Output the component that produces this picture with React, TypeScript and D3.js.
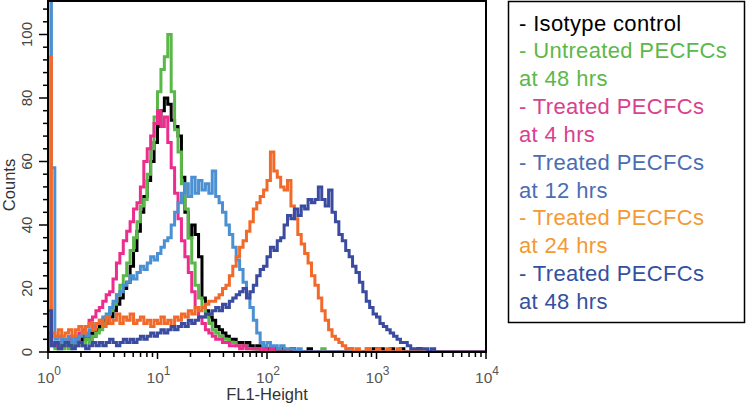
import React from "react";
import * as d3 from "d3";

// Histogram bins: 32 bins per decade over 10^0 .. 10^4 (128 bins)
const BINS_PER_DECADE = 32;
const isotypeCounts = [
  6,3,2,3,2,3,2,3,4,3, 5,4,6,5,7,8,10,9,11,13, 15,17,20,22,27,32,38,44,49,54,
  60,66,71,76,80,78,73,71,68,55, 44,36,40,37,30,17,13,11,10,8, 7,6,5,4,4,3,3,2,3,2,
  1,2,1,1,1,0,1,0,1,0, 0,1,0,0,0,0,1,0,0,0, 0,0,0,0,0,0,0,0,0,0,
  0,0,0,0,0,1,0,1,0,0, 1,0,0,1,0,0,0,0,1,0, 0,0,0,0,0,0,0,0,0,0, 0,0,0,0,0,0,0,0,
];
const untreated48Counts = [
  3,2,1,2,1,2,1,2,2,3, 2,4,3,5,6,7,9,11,13,15, 18,21,24,28,32,36,41,46,48,56,
  64,74,82,89,93,100,82,70,63,53, 45,36,28,21,17,14,11,9,7,6, 5,4,4,3,3,2,2,2,1,1,
  1,0,1,0,0,1,0,0,0,0, 0,0,0,0,0,0,0,0,0,0, 1,0,0,0,0,0,0,0,1,0,
  0,0,0,0,0,0,0,0,0,0, 0,0,0,0,0,0,0,0,0,0, 0,0,0,0,0,0,0,0,0,0, 0,0,0,0,0,0,0,0,
];
const treated4Counts = [
  4,3,2,3,4,3,4,5,4,6, 7,8,10,11,13,14,16,18,19,23, 28,31,35,38,41,45,47,52,60,64,
  68,72,76,71,74,66,58,50,42,35, 30,25,19,14,11,9,7,6,5,4, 4,3,3,2,2,2,1,2,1,1,
  1,1,0,1,0,1,0,0,0,0, 0,0,0,0,0,0,0,0,0,0, 0,0,0,0,0,0,0,0,0,0,
  0,0,0,0,0,0,0,0,0,0, 0,0,0,0,0,0,0,0,0,0, 0,0,0,0,0,0,0,0,0,0, 0,0,0,0,0,0,0,0,
];
const treated12Counts = [
  120,58,4,5,3,4,5,3,4,5, 6,5,7,8,9,10,11,12,14,16, 18,19,21,22,24,23,25,27,26,28,
  30,29,31,33,35,36,40,44,47,50, 53,49,55,50,54,51,53,50,57,49, 47,44,40,37,33,29,26,22,18,14,
  10,6,3,2,3,2,2,1,2,1, 1,1,0,1,0,0,0,0,0,0, 0,0,0,0,0,0,0,0,1,0,
  0,0,0,1,0,0,0,0,0,0, 0,0,0,0,0,0,0,0,0,0, 0,0,0,0,0,0,0,0,0,0, 0,0,0,0,0,0,0,0,
];
const treated24Counts = [
  93,6,5,7,5,6,7,5,7,8, 6,8,9,7,9,10,8,11,9,10, 12,9,11,10,12,9,10,11,9,10,
  8,10,9,11,9,10,8,11,10,12, 11,13,12,14,13,14,15,16,16,17, 18,20,21,24,27,30,33,35,38,41,
  45,47,49,51,54,63,57,55,52,51, 54,46,42,37,34,31,28,24,21,17, 13,10,7,5,4,3,2,1,1,0,
  1,0,0,1,0,0,1,0,0,1, 0,0,1,0,0,0,0,0,0,0, 0,0,0,0,0,0,0,0,0,0, 0,0,0,0,0,0,0,0,
];
const treated48Counts = [
  13,2,3,1,2,3,2,1,2,3, 2,1,2,3,2,3,2,3,4,3, 2,3,4,3,4,3,4,5,4,5,
  6,5,6,7,6,7,8,7,8,9, 8,10,9,10,11,11,12,12,13,14, 13,15,14,16,17,18,19,20,17,19,
  21,24,26,27,30,33,32,35,36,40, 43,42,45,43,46,45,48,47,48,52, 48,46,51,44,41,37,35,32,30,27,
  25,22,19,16,14,12,11,9,8,7, 6,5,4,3,3,2,1,1,1,1, 1,0,1,0,0,0,0,0,0,0, 0,0,0,0,0,0,0,0,
];

const legendLines = [
  { text: "- Isotype control", color: "#000000" },
  { text: "- Untreated PECFCs", color: "#5cb84a" },
  { text: "at 48 hrs", color: "#5cb84a" },
  { text: "- Treated PECFCs", color: "#d9418f" },
  { text: "at 4 hrs", color: "#d9418f" },
  { text: "- Treated PECFCs", color: "#4a6db3" },
  { text: "at 12 hrs", color: "#4a6db3" },
  { text: "- Treated PECFCs", color: "#f39a33" },
  { text: "at 24 hrs", color: "#f39a33" },
  { text: "- Treated PECFCs", color: "#34509f" },
  { text: "at 48 hrs", color: "#34509f" },
];

// draw order: first is bottom
const series = [
  { name: "Isotype control", counts: isotypeCounts, color: "#000000" },
  { name: "Untreated 48h", counts: untreated48Counts, color: "#5ab848" },
  { name: "Treated 4h", counts: treated4Counts, color: "#ec2d8e" },
  { name: "Treated 12h", counts: treated12Counts, color: "#4a90d2" },
  { name: "Treated 24h", counts: treated24Counts, color: "#f26a2a" },
  { name: "Treated 48h", counts: treated48Counts, color: "#3a4ba0" },
];

const yMajorTicks = [0, 20, 40, 60, 80, 100];
const xDecades = [0, 1, 2, 3, 4];

const W = 746, H = 404;
const L = 48, R = 486, T = 1, B = 352;
const FONT = "'Liberation Sans', Arial, Helvetica, sans-serif";

export default function App() {
  const x = d3.scaleLog().domain([1, 10000]).range([L, R]);
  const y = d3.scaleLinear().domain([0, 110.55]).range([B, T]);

  const line = d3
    .line<[number, number]>()
    .x((d) => x(d[0]))
    .y((d) => y(d[1]))
    .curve(d3.curveStepAfter);

  const pathFor = (counts: number[]) => {
    const pts: [number, number][] = [[1, 0]];
    counts.forEach((c, i) => pts.push([Math.pow(10, i / BINS_PER_DECADE), c]));
    pts.push([10000, counts[counts.length - 1]]);
    pts.push([10000, 0]);
    return line(pts) || "";
  };

  const yMinor = d3.range(0, 112, 4);
  const xMinor: number[] = [];
  for (let d = 0; d < 4; d++) for (let k = 2; k <= 9; k++) xMinor.push(k * Math.pow(10, d));

  return (
    <svg
      width={W}
      height={H}
      style={{ position: "absolute", left: 0, top: 0, background: "#fff" }}
      fontFamily={FONT}
    >
      <defs>
        <clipPath id="plotclip">
          <rect x={L} y={T} width={R - L} height={B - T} />
        </clipPath>
      </defs>
      <rect x={0} y={0} width={W} height={H} fill="#fff" />
      <g clipPath="url(#plotclip)">
        {series.map((s) => (
          <path
            key={s.name}
            d={pathFor(s.counts)}
            fill="none"
            stroke={s.color}
            strokeWidth={3}
            strokeLinejoin="miter"
          />
        ))}
      </g>
      {/* frame */}
      <rect x={L} y={T} width={R - L} height={B - T} fill="none" stroke="#000" strokeWidth={2} />
      {/* y ticks */}
      {yMinor.map((v) => {
        const major = v % 20 === 0;
        return (
          <line
            key={"ym" + v}
            x1={L - (major ? 9 : 5)}
            x2={L}
            y1={y(v)}
            y2={y(v)}
            stroke="#000"
            strokeWidth={1.5}
          />
        );
      })}
      {yMajorTicks.map((v) => (
        <text
          key={"yl" + v}
          transform={`translate(32,${y(v)}) rotate(-90)`}
          textAnchor="middle"
          fontSize={15}
          fill="#444"
        >
          {v}
        </text>
      ))}
      <text
        transform={`translate(15,${185}) rotate(-90)`}
        textAnchor="middle"
        fontSize={16.5}
        fill="#333"
      >
        Counts
      </text>
      {/* x ticks */}
      {xMinor.map((v) => (
        <line key={"xm" + v} x1={x(v)} x2={x(v)} y1={B} y2={B + 5} stroke="#000" strokeWidth={1.5} />
      ))}
      {xDecades.map((d) => (
        <line
          key={"xM" + d}
          x1={x(Math.pow(10, d))}
          x2={x(Math.pow(10, d))}
          y1={B}
          y2={B + 7}
          stroke="#000"
          strokeWidth={1.5}
        />
      ))}
      {xDecades.map((d) => (
        <text key={"xl" + d} x={x(Math.pow(10, d)) + 1} y={383} textAnchor="middle" fill="#555">
          <tspan fontSize={15.5}>10</tspan>
          <tspan fontSize={12} dy={-8}>
            {d}
          </tspan>
        </text>
      ))}
      <text x={267} y={400} textAnchor="middle" fontSize={16.5} fill="#333">
        FL1-Height
      </text>
      {/* legend */}
      <rect x={508.5} y={1.5} width={236} height={321} fill="#fff" stroke="#000" strokeWidth={1.5} />
      {legendLines.map((l, i) => (
        <text
          key={"lg" + i}
          x={519}
          y={30.5 + 27.85 * i}
          fontSize={22}
          letterSpacing={0.35}
          fill={l.color}
        >
          {l.text}
        </text>
      ))}
    </svg>
  );
}
